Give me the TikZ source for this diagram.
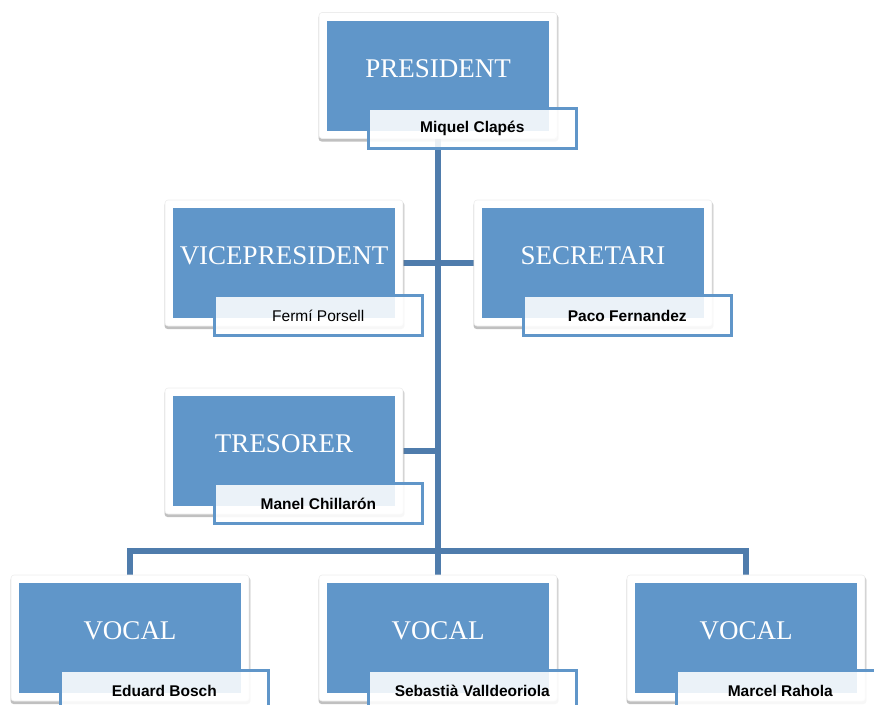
\documentclass[tikz,border=0pt]{standalone}
\usepackage{fontspec}
\setmainfont{Liberation Serif}
\newfontfamily\namefont{Liberation Sans}
\usetikzlibrary{shadows,backgrounds}
\definecolor{boxblue}{HTML}{6096C9}
\definecolor{linkblue}{HTML}{4F7CAC}
\definecolor{namefill}{HTML}{FFFFFF}
\tikzstyle{card} = [fill=white, draw=black!7, line width=0.6pt, rounded corners=3pt, inner sep=0pt, minimum width=238pt, minimum height=126pt, drop shadow={shadow xshift=0.5pt, shadow yshift=-2.5pt, shadow scale=1.008, opacity=0.45, fill=black!55}]
\tikzstyle{post} = [fill=boxblue, inner sep=0pt, minimum width=222pt, minimum height=110pt]
\tikzstyle{rank} = [text=white, inner sep=0pt, font=\fontsize{27}{32}\selectfont]
\tikzstyle{holder} = [draw=boxblue, line width=3pt, fill=namefill, fill opacity=0.88, text opacity=1, inner sep=0pt, minimum width=208pt, minimum height=40pt, font=\namefont\fontsize{15.5}{18}\selectfont]
\tikzstyle{link} = [draw=linkblue, line width=6pt]

\begin{document}
\begin{tikzpicture}[x=1pt, y=-1pt]
        \useasboundingbox (0,0) rectangle (874,704);
        % boards
        \node[card] (presf) at (438,75.5) {};
        \node[post] (pres) at (presf) {};
        \node[card] (vpf) at (284,263) {};
        \node[post] (vp) at (vpf) {};
        \node[card] (secf) at (593,263) {};
        \node[post] (sec) at (secf) {};
        \node[card] (tref) at (284,451) {};
        \node[post] (tre) at (tref) {};
        \node[card] (voca) at (130,638) {};
        \node[post] (voc1) at (voca) {};
        \node[card] (vocb) at (438,638) {};
        \node[post] (voc2) at (vocb) {};
        \node[card] (vocc) at (746,638) {};
        \node[post] (voc3) at (vocc) {};
        % titles
        \node[rank] at ([yshift=-48pt]pres.north) {PRESIDENT};
        \node[rank] at ([yshift=-48pt]vp.north) {VICEPRESIDENT};
        \node[rank] at ([yshift=-48pt]sec.north) {SECRETARI};
        \node[rank] at ([yshift=-48pt]tre.north) {TRESORER};
        \node[rank] at ([yshift=-48pt]voc1.north) {VOCAL};
        \node[rank] at ([yshift=-48pt]voc2.north) {VOCAL};
        \node[rank] at ([yshift=-48pt]voc3.north) {VOCAL};
        % names
        \node[holder] (presn) at ([xshift=145.5pt, yshift=2.5pt]pres.south west) {\bfseries Miquel Clapés};
        \node[holder] (vpn) at ([xshift=145.5pt, yshift=2.5pt]vp.south west) {Fermí Porsell};
        \node[holder] (secn) at ([xshift=145.5pt, yshift=2.5pt]sec.south west) {\bfseries Paco Fernandez};
        \node[holder] (tren) at ([xshift=145.5pt, yshift=2.5pt]tre.south west) {\bfseries Manel Chillarón};
        \node[holder] (voc1n) at ([xshift=145.5pt, yshift=2.5pt]voc1.south west) {\bfseries Eduard Bosch};
        \node[holder] (voc2n) at ([xshift=145.5pt, yshift=2.5pt]voc2.south west) {\bfseries Sebastià Valldeoriola};
        \node[holder] (voc3n) at ([xshift=145.5pt, yshift=2.5pt]voc3.south west) {\bfseries Marcel Rahola};
        \coordinate (bus) at (438,551);
        % connectors
        \begin{scope}[on background layer]
        \path[link] (pres.center) -- (voc2.north);
        \path[link] (vp.east) -- (sec.west);
        \path[link] (tre.east) -- (tre.east -| pres.center);
        \path[link] (voc1.north) |- (bus) -| (voc3.north);
        \end{scope}
\end{tikzpicture}
\end{document}
